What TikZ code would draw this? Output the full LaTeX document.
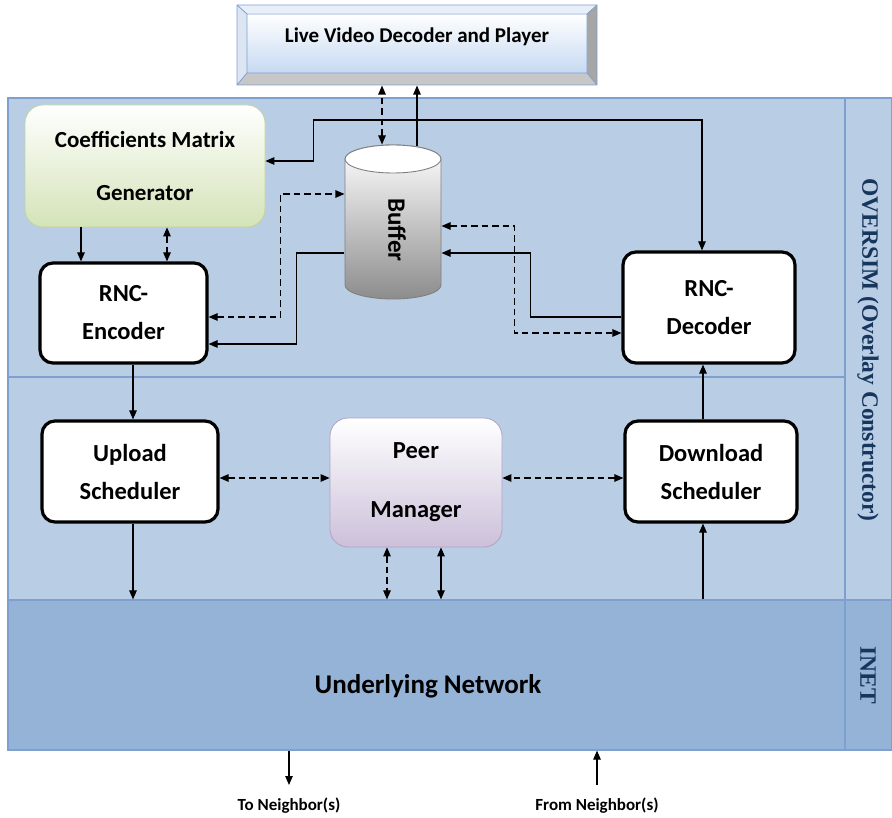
\documentclass[tikz,border=0pt]{standalone}
\usepackage{fontspec}
\setmainfont{Carlito}
\newfontfamily\sidefont{Liberation Serif}
\usetikzlibrary{arrows.meta}
\definecolor{overlayblue}{RGB}{185,205,229}
\definecolor{inetblue}{RGB}{149,179,215}
\definecolor{frameblue}{RGB}{126,160,206}
\definecolor{labelnavy}{RGB}{23,54,93}
\definecolor{gendark}{RGB}{212,227,184}
\definecolor{genframe}{RGB}{195,214,155}
\definecolor{peerdark}{RGB}{204,192,218}
\definecolor{peerframe}{RGB}{178,161,199}
\definecolor{bevellight}{RGB}{233,239,248}
\definecolor{bevelside}{RGB}{220,230,242}
\definecolor{facedark}{RGB}{198,217,241}
\begin{document}
\begin{tikzpicture}[x=1pt, y=-1pt, line width=1.1pt,
    >={Triangle[length=9pt,width=7.5pt]},
    region/.style={draw=frameblue, line width=1.2pt, inner sep=0pt},
    block/.style={draw, line width=3.2pt, rounded corners=13pt, fill=white,
      align=center, inner sep=0pt, font=\bfseries\fontsize{24.5}{38}\selectfont},
    softblock/.style={draw, line width=0.8pt, rounded corners=18pt,
      align=center, inner sep=0pt, font=\bfseries\fontsize{23}{53}\selectfont},
    dashline/.style={dash pattern=on 6.5pt off 4pt},
    sidelabel/.style={rotate=-90, text=labelnavy,
      font=\sidefont\bfseries\fontsize{23.5}{26}\selectfont},
    plain/.style={font=\bfseries\fontsize{17}{20}\selectfont}]
  \useasboundingbox (0,0) rectangle (892,818);

  % layers
  \node[region, fill=overlayblue, minimum width=837pt, minimum height=502pt] (overlay) at (426.5,349) {};
  \node[region, fill=overlayblue, minimum width=46pt, minimum height=502pt] (overlaycol) at (868.5,349) {};
  \node[region, fill=inetblue, minimum width=837pt, minimum height=150pt] (net) at (426.5,675) {};
  \node[region, fill=inetblue, minimum width=46pt, minimum height=150pt] (inetcol) at (868.5,675) {};
  \draw[frameblue, line width=1.2pt] ([yshift=-28pt]overlay.west) -- ([yshift=-28pt]overlay.east);
  \node[sidelabel] (oversim) at (868,350) {OVERSIM (Overlay Constructor)};
  \node[sidelabel] (inet) at (868,675) {INET};
  \node[font=\bfseries\fontsize{27}{30}\selectfont] (nettxt) at (428,686) {Underlying Network};

  % player frame
  \fill[bevellight] (237,5) -- (597,5) -- (587,14) -- (247,14) -- cycle;
  \fill[bevelside] (237,5) -- (247,14) -- (247,73) -- (237,85) -- cycle;
  \fill[black!35] (597,5) -- (597,85) -- (587,73) -- (587,14) -- cycle;
  \fill[black!22] (237,85) -- (597,85) -- (587,73) -- (247,73) -- cycle;
  \shade[top color=white, bottom color=facedark] (247,14) rectangle (587,73);
  \draw[frameblue, line width=0.8pt] (237,5) rectangle (597,85) (247,14) rectangle (587,73)
    (237,5) -- (247,14) (597,5) -- (587,14) (237,85) -- (247,73) (597,85) -- (587,73);
  \node[minimum width=360pt, minimum height=96pt, inner sep=0pt,
    font=\bfseries\fontsize{21}{25}\selectfont] (player) at (417,37) {Live Video Decoder and Player};

  % buffer
  \shade[top color=white, bottom color=black!45, draw=black!50, line width=0.9pt]
    (345,159) -- (345,285) arc[start angle=180, end angle=360, x radius=48pt, y radius=14pt]
    -- (441,159) arc[start angle=0, end angle=180, x radius=48pt, y radius=14pt] -- cycle;
  \draw[fill=white, draw=black!50, line width=0.9pt] (393,159) ellipse[x radius=48pt, y radius=14pt];
  \node[minimum width=96pt, minimum height=154pt, inner sep=0pt] (buf) at (393,222) {};
  \node[rotate=-90, font=\bfseries\fontsize{25}{30}\selectfont] (buftxt) at (397,230) {Buffer};

  % blocks
  \node[softblock, draw=genframe, top color=white, bottom color=gendark,
    minimum width=240pt, minimum height=122pt] (gen) at (145,166) {Coefficients Matrix\\Generator};
  \node[block, minimum width=167pt, minimum height=100pt] (enc) at (123.5,313) {RNC-\\Encoder};
  \node[block, minimum width=172pt, minimum height=111pt] (dec) at (709,307.5) {RNC-\\Decoder};
  \node[block, minimum width=176pt, minimum height=101pt] (up) at (130,471.5) {Upload\\Scheduler};
  \node[softblock, draw=peerframe, top color=white, bottom color=peerdark,
    font=\bfseries\fontsize{24.5}{59}\selectfont,
    minimum width=172pt, minimum height=129pt] (peer) at (416,482.5) {Peer\\Manager};
  \node[block, minimum width=172pt, minimum height=101pt] (down) at (711,471.5) {Download\\Scheduler};
  \node[plain] (toN) at (289,806) {To Neighbor(s)};
  \node[plain] (fromN) at (597,806) {From Neighbor(s)};

  % connectors
  \draw[<->, dashline] ([xshift=-11pt]buf.north) -- ([xshift=-11pt]buf.north |- player.south);
  \draw[->] ([xshift=24pt,yshift=-2pt]buf.north) -- ([xshift=24pt]buf.north |- player.south);
  \draw[<->] ([yshift=5pt]gen.east) -- ++(48,0) -- ++(0,-41) -| ([xshift=-7pt]dec.north);
  \draw[->] ([xshift=-64pt]gen.south) -- ([xshift=-64pt]gen.south |- enc.north);
  \draw[<->, dashline] ([xshift=22pt]gen.south) -- ([xshift=22pt]gen.south |- enc.north);
  \draw[<->, dashline] ([yshift=-4pt]enc.east) -- ++(72,0) |- ([yshift=28pt]buf.west);
  \draw[->] ([yshift=-31pt]buf.west) -- ++(-48,0) |- ([yshift=-31pt]enc.east);
  \draw[<->, dashline] ([yshift=-4pt]buf.east) -- ++(73,0) |- ([yshift=-25.5pt]dec.west);
  \draw[->] ([yshift=-9.5pt]dec.west) -- ++(-91,0) |- ([yshift=-31pt]buf.east);
  \draw[->] ([xshift=3pt]up.north |- enc.south) -- ([xshift=3pt]up.north);
  \draw[->] ([xshift=3pt]up.south) -- ([xshift=3pt]up.south |- net.north);
  \draw[<->, dashline] ([yshift=-6.5pt]up.east) -- ([yshift=-6.5pt]up.east -| peer.west);
  \draw[<->, dashline] ([yshift=-6.5pt]down.west) -- ([yshift=-6.5pt]down.west -| peer.east);
  \draw[<->, dashline] ([xshift=-29pt]peer.south) -- ([xshift=-29pt]peer.south |- net.north);
  \draw[<->] ([xshift=25pt]peer.south) -- ([xshift=25pt]peer.south |- net.north);
  \draw[->] ([xshift=-8pt]down.south |- net.north) -- ([xshift=-8pt]down.south);
  \draw[->] ([xshift=-8pt]down.north) -- ([xshift=-8pt]down.north |- dec.south);
  \draw[->] (net.south -| toN) -- ([yshift=21pt]toN.center);
  \draw[->] ([yshift=21pt]fromN.center) -- (net.south -| fromN);
\end{tikzpicture}
\end{document}
